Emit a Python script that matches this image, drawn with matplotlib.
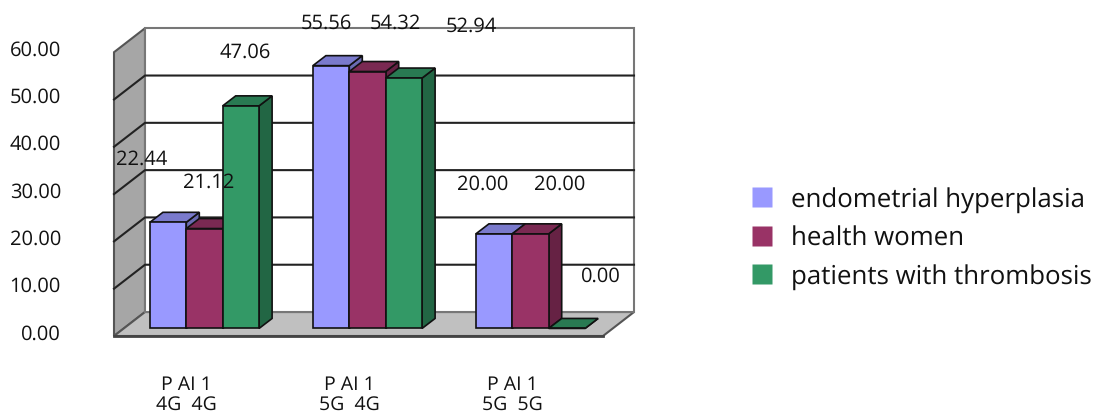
import numpy as np
import matplotlib
matplotlib.use("Agg")
from matplotlib import pyplot as plt
from matplotlib.patches import Polygon
from matplotlib.lines import Line2D

plt.rcParams['font.family'] = ['Open Sans', 'DejaVu Sans']
plt.rcParams['text.hinting'] = 'no_hinting'

categories = ["P AI 1\n4G  4G", "P AI 1\n5G  4G", "P AI 1\n5G  5G"]
series_names = ["endometrial hyperplasia", "health women", "patients with thrombosis"]
hyperplasia = [22.44, 55.56, 20.00]
health_women = [21.12, 54.32, 20.00]
thrombosis = [47.06, 52.94, 0.00]
y_ticks = [0, 10, 20, 30, 40, 50, 60]

face_colors = ["#9999ff", "#993366", "#339966"]
top_colors = ["#7a7acc", "#7a2952", "#297a52"]
side_colors = ["#6b6bb3", "#662244", "#226644"]
edge = "#111111"

# fake 3d depth, in data units
DX, DY = 13 / 163, 2.11
BAR_W = 36.4 / 163

fig = plt.figure(figsize=(10.97, 4.14), dpi=100)
ax = fig.add_axes([0, 0, 1, 1])
ax.set_xlim(-204.5 / 163, (1097 - 204.5) / 163)
ax.set_ylim(-17.88, 69.65)
ax.axis("off")

x_left = -54.5 / 163 - (150 - 114) / 163
x_right = x_left + 489 / 163
dx_wall, dy_wall = 31 / 163, 5.07
y0 = -1.6

# side wall, floor and back wall
ax.add_patch(Polygon([(x_left, y0), (x_left + dx_wall, y0 + dy_wall),
                      (x_left + dx_wall, y0 + dy_wall + 60), (x_left, y0 + 60)],
                     fc="#a6a6a6", ec="#555555", lw=1.5, zorder=1))
ax.add_patch(Polygon([(x_left, y0), (x_left + dx_wall, y0 + dy_wall),
                      (x_right + dx_wall, y0 + dy_wall), (x_right, y0)],
                     fc="#c0c0c0", ec="#555555", lw=1.5, zorder=1))
ax.add_patch(Polygon([(x_left + dx_wall, y0 + dy_wall), (x_left + dx_wall, y0 + dy_wall + 60),
                      (x_right + dx_wall, y0 + dy_wall + 60), (x_right + dx_wall, y0 + dy_wall)],
                     fc="white", ec="#777777", lw=1.5, zorder=1))
ax.plot([x_left, x_right], [y0, y0], color="#444444", lw=2, zorder=2)

# gridlines run along the wall then along the back
for t in y_ticks[1:6]:
    ax.plot([x_left, x_left + dx_wall, x_right + dx_wall],
            [y0 + t, y0 + t + dy_wall, y0 + t + dy_wall],
            color="#222222", lw=1.5, zorder=2)

for t in y_ticks:
    ax.text(x_left - 53 / 163, y0 + t + 0.6, "%.2f" % t, ha="right", va="center",
            fontsize=14.5, color="#111111", zorder=8)

# bars
series = [hyperplasia, health_women, thrombosis]
for s, values in enumerate(series):
    offset = (s - 1) * BAR_W
    for g, v in enumerate(values):
        x = g + offset
        xl, xr = x - BAR_W / 2, x + BAR_W / 2
        z = 3 + g * 3 + s
        ax.add_patch(Polygon([(xr, 0), (xr + DX, DY), (xr + DX, v + DY), (xr, v)],
                             fc=side_colors[s], ec=edge, lw=1.2, zorder=z))
        ax.add_patch(Polygon([(xl, v), (xl + DX, v + DY), (xr + DX, v + DY), (xr, v)],
                             fc=top_colors[s], ec=edge, lw=1.2, zorder=z))
        ax.bar(x, v, width=BAR_W, bottom=0, color=face_colors[s], edgecolor=edge,
               linewidth=1.2, zorder=z + 0.5)

# data labels sit off their bars in the source, offsets in pixels
label_offsets = {
    (0, 0): (-26, 64), (1, 0): (4.5, 47), (2, 0): (4, 54),
    (0, 1): (-4.5, 43), (1, 1): (28, 49), (2, 1): (67.5, 53),
    (0, 2): (-11, 50), (1, 2): (29, 50), (2, 2): (33.5, 52.5),
}
for s, values in enumerate(series):
    offset = (s - 1) * BAR_W
    for g, v in enumerate(values):
        dx_px, dy_px = label_offsets[(s, g)]
        ax.annotate("%.2f" % v, (g + offset, v), xytext=(dx_px * 0.72, dy_px * 0.72),
                    textcoords="offset points", ha="center", va="center",
                    fontsize=14.5, color="#111111", zorder=20)

for g, cat in enumerate(categories):
    ax.text(g - 18 / 163, -13.9, cat, ha="center", va="center", fontsize=14,
            linespacing=1.05, color="#111111")

handles = [Line2D([], [], ls="", marker="s", ms=13.7, mfc=c, mec="none") for c in face_colors]
ax.legend(handles, series_names, loc="center left", bbox_to_anchor=(752 / 1097, 1 - 239 / 414),
          frameon=False, fontsize=18.6, handlelength=0.8, handletextpad=0.7,
          labelspacing=0.48, borderpad=0, borderaxespad=0, labelcolor="#111111")

fig.savefig("out.png", dpi=100)
